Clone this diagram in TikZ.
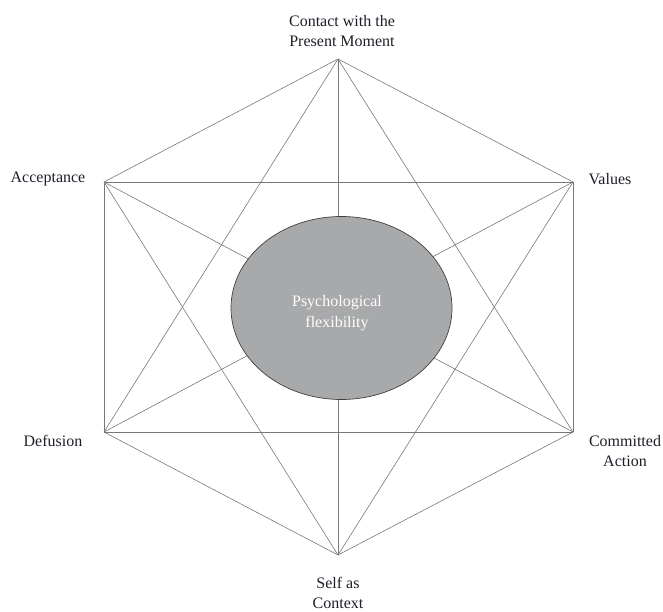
\documentclass[tikz,border=0pt]{standalone}
\usepackage{fontspec}
\setmainfont{Liberation Serif}
\usetikzlibrary{shapes.geometric}
\definecolor{edgegray}{RGB}{120,120,120}
\definecolor{corefill}{RGB}{168,169,171}
\definecolor{labelink}{RGB}{30,30,40}
\begin{document}
\begin{tikzpicture}[x=1pt,y=-1pt,
  vertex/.style={coordinate},
  lbl/.style={font=\fontsize{16}{20}\selectfont, text=labelink, align=center, inner sep=0pt},
  link/.style={draw=edgegray, line width=0.6pt},
  core/.style={ellipse, draw=black!75, line width=0.7pt, fill=corefill,
    minimum width=221pt, minimum height=183pt, inner sep=0pt},
  coretext/.style={font=\fontsize{16}{21}\selectfont, text=white, align=center, inner sep=0pt}]
  \useasboundingbox (0,0) rectangle (663,612);
  % hexagon corners
  \node[vertex] (cp) at (338,59) {};
  \node[vertex] (ac) at (104,182) {};
  \node[vertex] (va) at (573,182) {};
  \node[vertex] (de) at (104,432) {};
  \node[vertex] (ca) at (573,432) {};
  \node[vertex] (sc) at (338,555) {};
  % every pair of processes is linked
  \foreach \a/\b in {cp/ac,cp/va,cp/de,cp/ca,cp/sc,
                     ac/va,ac/de,ac/ca,ac/sc,
                     va/de,va/ca,va/sc,
                     de/ca,de/sc,ca/sc}
    \draw[link] (\a) -- (\b);
  % central process
  \node[core] (pf) at (341.5,308) {};
  \node[coretext] (pft) at (337,313) {Psychological\\flexibility};
  % process labels
  \node[lbl] (lcp) at (342,31) {Contact with the\\Present Moment};
  \node[lbl] (lac) at (48,179) {Acceptance};
  \node[lbl] (lva) at (610,179) {Values};
  \node[lbl] (lde) at (53,441) {Defusion};
  \node[lbl] (lca) at (625,451) {Committed\\Action};
  \node[lbl] (lsc) at (338,593) {Self as\\Context};
\end{tikzpicture}
\end{document}
